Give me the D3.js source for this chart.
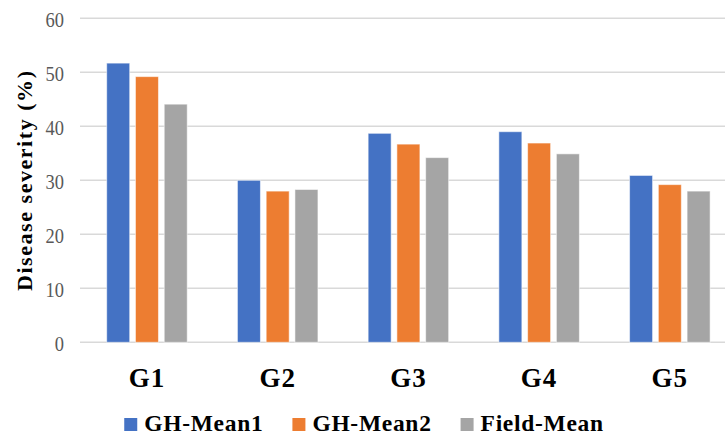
<!DOCTYPE html>
<html>
<head>
<meta charset="utf-8">
<script src="https://cdn.jsdelivr.net/npm/d3@7/dist/d3.min.js"></script>
<style>
  html, body { margin: 0; padding: 0; background: #fff; }
  svg { display: block; }
</style>
</head>
<body>
<svg id="chart" width="725" height="437"></svg>
<script>
// Disease severity by genotype group, three measurement series
const groups = ["G1", "G2", "G3", "G4", "G5"];
const seriesNames = ["GH-Mean1", "GH-Mean2", "Field-Mean"];
const ghMean1 = [51.7, 30.0, 38.7, 39.0, 30.9];
const ghMean2 = [49.2, 28.0, 36.7, 36.9, 29.2];
const fieldMean = [44.1, 28.3, 34.2, 34.9, 28.0];
const yTicks = [0, 10, 20, 30, 40, 50, 60];
const colors = ["#4472C4", "#ED7D31", "#A5A5A5"];

const seriesValues = [ghMean1, ghMean2, fieldMean];
const rows = groups.map((g, i) => ({
  group: g,
  values: seriesNames.map((s, j) => ({ series: s, value: seriesValues[j][i], color: colors[j] }))
}));

const svg = d3.select("#chart");
const serif = "'Liberation Serif', 'Times New Roman', serif";

const y = d3.scaleLinear().domain([0, 60]).range([342.3, 18.3]);
const x0 = d3.scaleBand().domain(groups).range([81.6, 735.2])
  .paddingInner(0.384).paddingOuter(0.192);
const x1 = d3.scaleBand().domain(seriesNames).range([0, x0.bandwidth()]).paddingInner(0.2);

// Horizontal gridlines
svg.append("g")
  .selectAll("line")
  .data(yTicks)
  .join("line")
  .attr("x1", 80).attr("x2", 725)
  .attr("y1", d => y(d)).attr("y2", d => y(d))
  .attr("stroke", "#d9d9d9").attr("stroke-width", 1.5);

// Y axis tick labels
const yAxis = d3.axisLeft(y).tickValues(yTicks).tickSize(0).tickPadding(0);
const yg = svg.append("g").attr("transform", "translate(64,0)").call(yAxis);
yg.select(".domain").remove();
yg.selectAll("text")
  .attr("font-family", serif)
  .attr("font-size", 21)
  .attr("fill", "#595959")
  .attr("dy", "0.38em")
  .attr("transform", "scale(0.88,1)");

// Bars
const grp = svg.append("g").selectAll("g")
  .data(rows)
  .join("g")
  .attr("transform", d => `translate(${x0(d.group)},0)`);
grp.selectAll("rect")
  .data(d => d.values)
  .join("rect")
  .attr("x", d => x1(d.series))
  .attr("width", x1.bandwidth())
  .attr("y", d => y(d.value))
  .attr("height", d => y(0) - y(d.value))
  .attr("fill", d => d.color)
  .attr("stroke", "rgba(255,255,255,0.55)")
  .attr("stroke-width", 1);

// Category labels
const xAxis = d3.axisBottom(x0).tickSize(0).tickPadding(0);
const xg = svg.append("g").attr("transform", "translate(0,387)").call(xAxis);
xg.select(".domain").remove();
xg.selectAll("text")
  .attr("font-family", serif)
  .attr("font-weight", "bold")
  .attr("font-size", 27)
  .attr("letter-spacing", 1)
  .attr("fill", "#000")
  .attr("dy", 0);

// Y axis title
svg.append("text")
  .attr("transform", "translate(32,181) rotate(-90)")
  .attr("text-anchor", "middle")
  .attr("font-family", serif)
  .attr("font-weight", "bold")
  .attr("font-size", 22)
  .attr("textLength", 220)
  .attr("lengthAdjust", "spacing")
  .attr("fill", "#000")
  .text("Disease severity (%)");

// Legend, laid out from measured text widths and centred
const legend = svg.append("g");
const items = legend.selectAll("g")
  .data(seriesNames)
  .join("g");
items.append("rect")
  .attr("width", 13).attr("height", 13)
  .attr("y", -13)
  .attr("fill", (d, i) => colors[i]);
items.append("text")
  .attr("x", 20)
  .attr("font-family", serif)
  .attr("font-weight", "bold")
  .attr("font-size", 23.5)
  .attr("letter-spacing", 0.7)
  .attr("fill", "#000")
  .text(d => d);
let cursor = 0;
items.each(function () {
  const w = this.getBBox().width;
  d3.select(this).attr("transform", `translate(${cursor},0)`);
  cursor += w + 29;
});
const total = cursor - 29;
legend.attr("transform", `translate(${364 - total / 2},431)`);
</script>
</body>
</html>
